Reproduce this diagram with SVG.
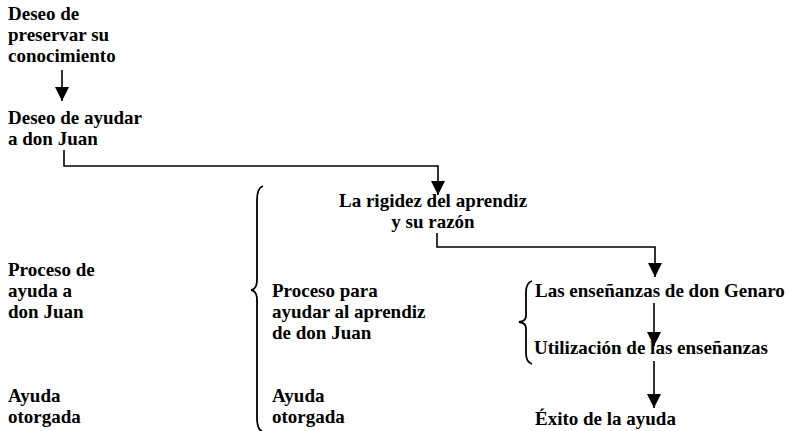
<svg xmlns="http://www.w3.org/2000/svg" width="790" height="431" viewBox="0 0 790 431">
<style>
text{font-family:"Liberation Serif","Times New Roman",serif;font-size:19px;font-weight:bold;fill:#000}
.c{fill:none;stroke:#000;stroke-width:1.6}
.b{fill:none;stroke:#000;stroke-width:1.8}
</style>
<defs>
<marker id="a" viewBox="0 0 14 14" refX="14" refY="7" markerWidth="14" markerHeight="14" markerUnits="userSpaceOnUse" orient="auto">
<path d="M0,0 L14,7 L0,14 Z" fill="#000"/>
</marker>
</defs>
<rect width="790" height="431" fill="#fff"/>
<g id="n1"><text x="8" y="20">Deseo de</text><text x="8" y="41">preservar su</text><text x="8" y="62">conocimiento</text></g>
<g id="n2"><text x="8" y="124">Deseo de ayudar</text><text x="8" y="145">a don Juan</text></g>
<g id="n3"><text x="339" y="207">La rigidez del aprendiz</text><text x="433" y="228" text-anchor="middle">y su razón</text></g>
<g id="n4"><text x="535" y="297">Las enseñanzas de don Genaro</text></g>
<g id="n5"><text x="534" y="354">Utilización de las enseñanzas</text></g>
<g id="n6"><text x="535" y="425">Éxito de la ayuda</text></g>
<g id="n7"><text x="8" y="276">Proceso de</text><text x="8" y="297">ayuda a</text><text x="8" y="318">don Juan</text></g>
<g id="n8"><text x="8" y="402">Ayuda</text><text x="8" y="423">otorgada</text></g>
<g id="n9"><text x="272" y="297">Proceso para</text><text x="272" y="318">ayudar al aprendiz</text><text x="272" y="339">de don Juan</text></g>
<g id="n10"><text x="272" y="402">Ayuda</text><text x="272" y="423">otorgada</text></g>
<g id="braces">
<path class="b" d="M263,186 Q257,188 257,200 L257,280 Q257,289 251,290 Q257,291 257,300 L257,418 Q257,430 263,432"/>
<path class="b" d="M532,281 Q526,283 526,292 L526,316 Q526,321 519,322 Q526,323 526,328 L526,353 Q526,362 532,364"/>
</g>
<g id="connectors">
<path class="c" d="M62,70 V101" marker-end="url(#a)"/>
<path class="c" d="M64,150 V166 H438 V195" marker-end="url(#a)"/>
<path class="c" d="M437,233 V247 H655 V277" marker-end="url(#a)"/>
<path class="c" d="M654,303 V346" marker-end="url(#a)"/>
<path class="c" d="M654,361 V408" marker-end="url(#a)"/>
</g>
</svg>
